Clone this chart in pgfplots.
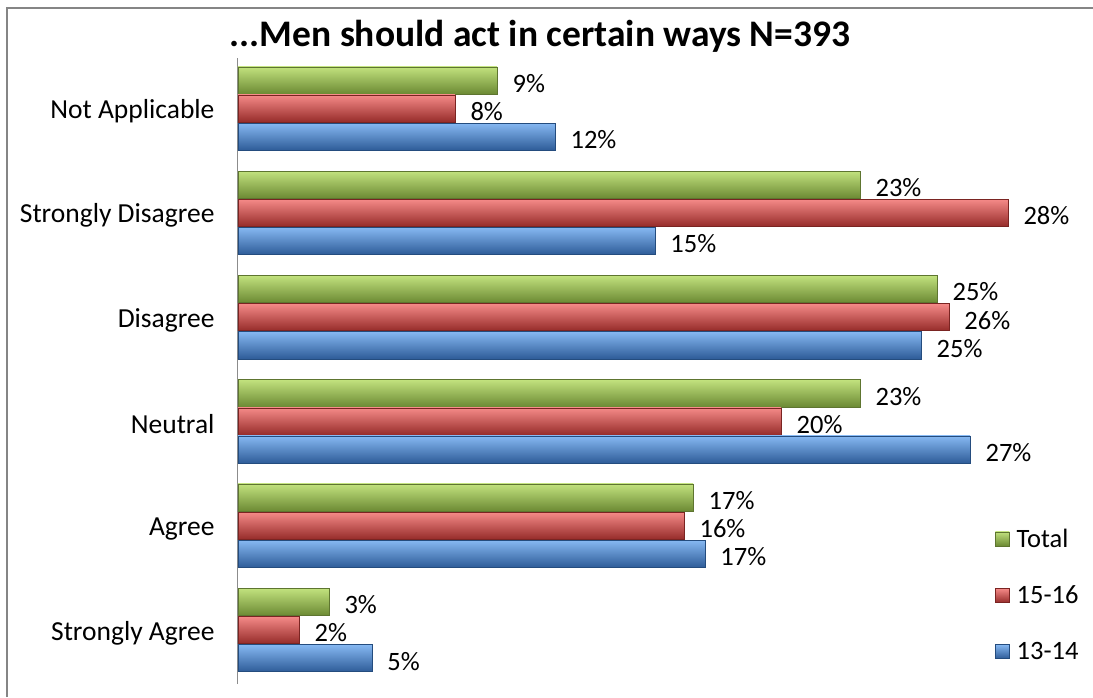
\documentclass[border=0pt]{standalone}
\usepackage{fontspec}
\setmainfont{Carlito}
\usepackage{pgfplots}
\pgfplotsset{compat=1.18}
\definecolor{gtop}{HTML}{C2E27E}
\definecolor{gmid}{HTML}{98BC50}
\definecolor{gbot}{HTML}{6C8A34}
\definecolor{gedge}{HTML}{5E7530}
\definecolor{rtop}{HTML}{F58A88}
\definecolor{rmid}{HTML}{C8423F}
\definecolor{rbot}{HTML}{962C2A}
\definecolor{redge}{HTML}{7A2422}
\definecolor{btop}{HTML}{86B8F2}
\definecolor{bmid}{HTML}{4A84CC}
\definecolor{bbot}{HTML}{2E5C98}
\definecolor{bedge}{HTML}{244C7E}
\pgfplotsset{
  bl/.style={legend image code/.code={\draw[##1] (0pt,-7pt) rectangle (14pt,7pt);}},
  G/.style={bl, bar shift=0.27, draw=gedge, top color=gtop, middle color=gmid, bottom color=gbot},
  R/.style={bl, bar shift=0, draw=redge, top color=rtop, middle color=rmid, bottom color=rbot},
  B/.style={bl, bar shift=-0.27, draw=bedge, top color=btop, middle color=bmid, bottom color=bbot},
}
\begin{document}
\begin{tikzpicture}
\useasboundingbox (0pt,0pt) rectangle (1093pt,-697pt);
\fill[white] (0pt,0pt) rectangle (1093pt,-697pt);
\draw[color=black!48, line width=2pt] (7pt,-697pt) -- (7pt,-8pt) -- (1093pt,-8pt);
\node[font=\fontsize{37.5}{44}\selectfont\bfseries, anchor=base] at (540pt,-46.7pt) {...Men should act in certain ways N=393};
\begin{axis}[
  at={(238pt,-684.2pt)}, anchor=south west, scale only axis,
  width=825pt, height=625.8pt,
  xbar, xmin=0, xmax=30, ymin=-0.52, ymax=5.48,
  axis x line=none, axis y line*=left,
  y axis line style={color=black!45, line width=1pt},
  ytick={0,...,5},
  yticklabels={Strongly Agree, Agree, Neutral, Disagree, Strongly Disagree, Not Applicable},
  major tick length=0pt,
  yticklabel style={font=\fontsize{27.5}{33}\selectfont, xshift=-20pt, yshift=-3pt},
  bar width=0.26,
  point meta=explicit symbolic,
  nodes near coords={\pgfplotspointmeta\%},
  nodes near coords style={font=\fontsize{26.5}{32}\selectfont, anchor=west, xshift=12pt, yshift=-3pt},
  legend style={at={(axis description cs:0.914,0.255)}, anchor=north west, draw=none, fill=none,
    font=\fontsize{26.5}{32}\selectfont, row sep=33pt, cells={anchor=west},
    /tikz/every odd column/.append style={column sep=5pt}},
  clip=false,
]
% Not Applicable (with legend entries)
\addplot[G] coordinates {(9.42,5) [9]};
\addplot[R] coordinates {(7.89,5) [8]};
\addplot[B] coordinates {(11.53,5) [12]};
\legend{Total,15-16,13-14}
% Strongly Disagree
\addplot[G, forget plot] coordinates {(22.62,4) [23]};
\addplot[R, forget plot] coordinates {(28.0,4) [28]};
\addplot[B, forget plot] coordinates {(15.16,4) [15]};
% Disagree
\addplot[G, forget plot] coordinates {(25.42,3) [25]};
\addplot[R, forget plot] coordinates {(25.85,3) [26]};
\addplot[B, forget plot] coordinates {(24.84,3) [25]};
% Neutral
\addplot[G, forget plot] coordinates {(22.62,2) [23]};
\addplot[R, forget plot] coordinates {(19.75,2) [20]};
\addplot[B, forget plot] coordinates {(26.62,2) [27]};
% Agree
\addplot[G, forget plot] coordinates {(16.55,1) [17]};
\addplot[R, forget plot] coordinates {(16.22,1) [16]};
\addplot[B, forget plot] coordinates {(16.98,1) [17]};
% Strongly Agree
\addplot[G, forget plot] coordinates {(3.31,0) [3]};
\addplot[R, forget plot] coordinates {(2.22,0) [2]};
\addplot[B, forget plot] coordinates {(4.87,0) [5]};
\end{axis}
\end{tikzpicture}
\end{document}
